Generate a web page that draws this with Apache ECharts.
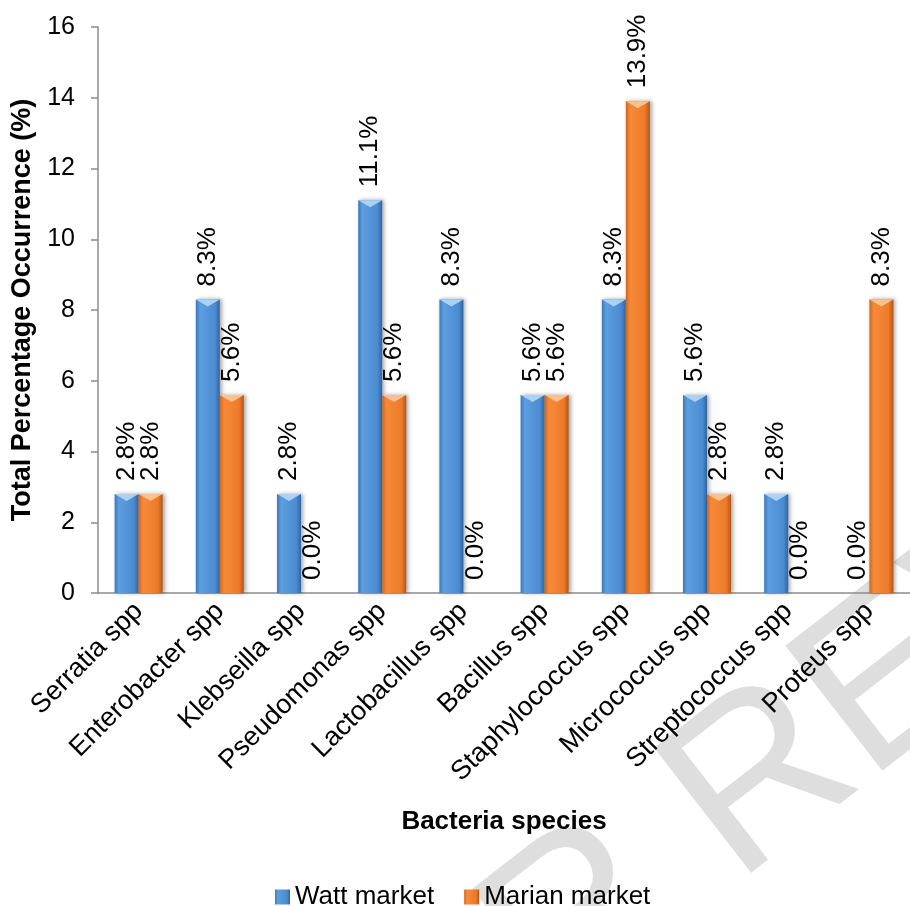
<!DOCTYPE html>
<html>
<head>
<meta charset="utf-8">
<script src="https://cdn.jsdelivr.net/npm/echarts@6/dist/echarts.min.js"></script>
<style>
  html, body { margin: 0; padding: 0; background: #fff; }
  #main { width: 910px; height: 906px; }
</style>
</head>
<body>
<div id="main"></div>
<script>
var categories = ['Serratia spp', 'Enterobacter spp', 'Klebseilla spp', 'Pseudomonas spp', 'Lactobacillus spp',
  'Bacillus spp', 'Staphylococcus spp', 'Micrococcus spp', 'Streptococcus spp', 'Proteus spp'];
var wattMarket = [2.8, 8.3, 2.8, 11.1, 8.3, 5.6, 8.3, 5.6, 2.8, 0.0];
var marianMarket = [2.8, 5.6, 0.0, 5.6, 0.0, 5.6, 13.9, 2.8, 0.0, 8.3];
var yTicks = { min: 0, max: 16, interval: 2 };

var FONT = 'Liberation Sans, Arial, sans-serif';
var BAR_W = 24;

function grad(c) {
  return new echarts.graphic.LinearGradient(0, 0, 1, 0, [
    { offset: 0, color: c[0] },
    { offset: 0.18, color: c[1] },
    { offset: 0.8, color: c[2] },
    { offset: 1, color: c[3] }
  ]);
}
var blue = grad(['#3c78ba', '#5c9ee0', '#4c8bd0', '#2f65a3']);
var orange = grad(['#cf651d', '#f78a3a', '#ec7b29', '#b55515']);

// light bevel triangle on top of each bar
function bevel(offset, color) {
  return function (params, api) {
    var v = api.value(1);
    if (!v) return null;
    var p = api.coord([api.value(0), v]);
    var cx = p[0] + offset;
    var x0 = cx - BAR_W / 2, x1 = cx + BAR_W / 2;
    return {
      type: 'polygon',
      shape: { points: [[x0, p[1]], [x1, p[1]], [cx, p[1] + 7]] },
      style: { fill: color }
    };
  };
}

var chart = echarts.init(document.getElementById('main'));
chart.setOption({
  animation: false,
  textStyle: { fontFamily: FONT },
  // faint "review" watermark behind the plot
  graphic: [{
    type: 'text',
    z: 0,
    x: 465,
    y: 1160,
    rotation: 0.66,
    silent: true,
    style: {
      text: 'ER REVIEW',
      font: '230px ' + FONT,
      fill: '#dedede',
      align: 'left',
      verticalAlign: 'bottom'
    }
  }],
  grid: { left: 98, right: -8, top: 27, bottom: 313, containLabel: false },
  legend: {
    data: ['Watt market', 'Marian market'],
    left: 270,
    top: 879,
    icon: 'rect',
    itemWidth: 15,
    itemHeight: 15,
    itemGap: 30,
    textStyle: { fontSize: 26, color: '#000', fontFamily: FONT }
  },
  xAxis: {
    type: 'category',
    data: categories,
    name: 'Bacteria species',
    nameLocation: 'middle',
    nameGap: 216,
    nameTextStyle: { fontSize: 26, fontWeight: 'bold', color: '#000' },
    axisLine: { lineStyle: { color: '#8c8c8c', width: 1.5 } },
    axisTick: { length: 8, lineStyle: { color: '#8c8c8c', width: 1.5 } },
    axisLabel: { rotate: 45, interval: 0, fontSize: 27, color: '#000', margin: 14 }
  },
  yAxis: {
    type: 'value',
    min: yTicks.min,
    max: yTicks.max,
    interval: yTicks.interval,
    name: 'Total Percentage Occurrence (%)',
    nameLocation: 'middle',
    nameGap: 60,
    nameTextStyle: { fontSize: 27, fontWeight: 'bold', color: '#000' },
    axisLine: { show: true, lineStyle: { color: '#8c8c8c', width: 1.5 } },
    axisTick: { show: true, length: 7, lineStyle: { color: '#8c8c8c', width: 1.5 } },
    splitLine: { show: false },
    axisLabel: { fontSize: 25, color: '#000', margin: 23 }
  },
  series: [
    {
      name: 'Watt market',
      type: 'bar',
      data: wattMarket,
      barWidth: BAR_W,
      barGap: '0%',
      itemStyle: { color: blue, shadowColor: 'rgba(0,0,0,0.35)', shadowBlur: 4, shadowOffsetX: 2 },
      label: {
        show: true, position: 'top', rotate: 90, distance: 13, align: 'left', verticalAlign: 'middle',
        fontSize: 26, color: '#000',
        formatter: function (p) { return p.value.toFixed(1) + '%'; }
      }
    },
    {
      name: 'Marian market',
      type: 'bar',
      data: marianMarket,
      barWidth: BAR_W,
      barGap: '0%',
      itemStyle: { color: orange, shadowColor: 'rgba(0,0,0,0.35)', shadowBlur: 4, shadowOffsetX: 2 },
      label: {
        show: true, position: 'top', rotate: 90, distance: 13, align: 'left', verticalAlign: 'middle',
        fontSize: 26, color: '#000',
        formatter: function (p) { return p.value.toFixed(1) + '%'; }
      }
    },
    {
      type: 'custom',
      renderItem: bevel(-BAR_W / 2, '#a9d2f4'),
      data: wattMarket.map(function (v, i) { return [i, v]; }),
      encode: { x: 0, y: 1 },
      z: 5
    },
    {
      type: 'custom',
      renderItem: bevel(BAR_W / 2, '#fbc18e'),
      data: marianMarket.map(function (v, i) { return [i, v]; }),
      encode: { x: 0, y: 1 },
      z: 5
    }
  ]
});
</script>
</body>
</html>
